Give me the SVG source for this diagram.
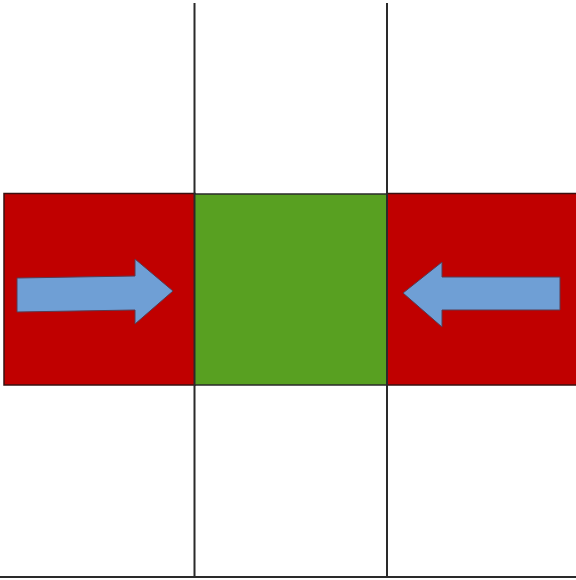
<svg xmlns="http://www.w3.org/2000/svg" width="576" height="580" viewBox="0 0 576 580">
<style>
.band{fill:#c00000;stroke:#3a1010;stroke-width:1.5}
.center{fill:#58a021}
.arrow{fill:#6f9fd5;stroke:#5a3a50;stroke-width:1}
.grid{stroke:#2a2a2a;stroke-width:2;fill:none}
</style>
<rect width="576" height="580" fill="#ffffff"/>
<g id="left-region">
<rect class="band" x="4" y="193.5" width="191" height="191.5"/>
</g>
<g id="right-region">
<rect class="band" x="387" y="193.5" width="190" height="191.5"/>
</g>
<g id="center-region">
<rect class="center" x="195" y="194" width="192" height="191"/>
<path d="M195,194 H387 M195,385 H387" stroke="#2a2a2a" stroke-width="1.5"/>
</g>
<g id="left-arrow">
<polygon class="arrow" points="17,278 135,276 135,259 173,291 135,324 135,310 17,312"/>
</g>
<g id="right-arrow">
<polygon class="arrow" points="560,277 442,277 442,262 403,293 442,327 442,310 560,310"/>
</g>
<g id="connectors">
<line class="grid" x1="194.5" y1="3" x2="194.5" y2="578"/>
<line class="grid" x1="387" y1="3" x2="387" y2="578"/>
<line class="grid" x1="0" y1="577" x2="576" y2="577"/>
</g>
</svg>
